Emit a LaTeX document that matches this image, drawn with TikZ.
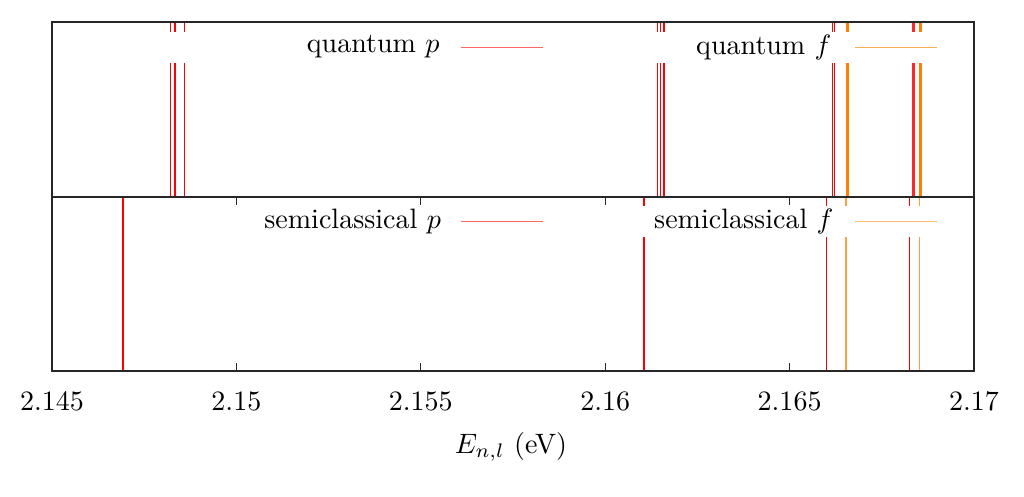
\documentclass[tikz,border=0pt]{standalone}
\begin{document}
\begin{tikzpicture}[x=0.3565pt,y=-0.3565pt,
  pline/.style={draw=red,line width=0.38pt},
  pthick/.style={draw=red!85,line width=0.95pt},
  fthick/.style={draw=orange,line width=0.95pt},
  fline/.style={draw=orange!75,line width=0.38pt},
  frame/.style={draw=black!85,line width=0.4pt},
  keybox/.style={fill=white,draw=none},
  keytxt/.style={anchor=east,inner sep=0pt},
  ticklab/.style={anchor=center,inner sep=0pt}]
\useasboundingbox[fill=white] (0,0) rectangle (1024,496);
% top panel lines
\foreach \x in {170.3,175,184.3,657.5,660.2,664,832.3,834.7}
  \draw[pline] (\x,22) -- (\x,197);
\draw[pthick] (913.3,22) -- (913.3,197);
\draw[fthick] (847.8,22) -- (847.8,197);
\draw[fthick] (920.5,22) -- (920.5,197);
% bottom panel lines
\foreach \x in {123,644,826.3,909.3}
  \draw[pline] (\x,197) -- (\x,371);
\foreach \x in {846,919.3}
  \draw[fline] (\x,197) -- (\x,371);
% key boxes
\path[keybox] (160,32) rectangle (946,63);
\path[keybox] (255,206) rectangle (946,237);
% key entries
\node[keytxt] (kqp) at (440,47) {quantum $p$};
\coordinate (kqpa) at (461,47.7); \coordinate (kqpb) at (543,47.7);
\draw[draw=red!60,line width=0.45pt] (kqpa) -- (kqpb);
\node[keytxt] (kqf) at (832,47) {quantum $f$};
\coordinate (kqfa) at (855,47.5); \coordinate (kqfb) at (937,47.5);
\draw[draw=orange!65,line width=0.6pt] (kqfa) -- (kqfb);
\node[keytxt] (ksp) at (441.5,221.5) {semiclassical $p$};
\coordinate (kspa) at (461,221.5); \coordinate (kspb) at (543,221.5);
\draw[draw=red!60,line width=0.45pt] (kspa) -- (kspb);
\node[keytxt] (ksf) at (834,221.5) {semiclassical $f$};
\coordinate (ksfa) at (855,221.5); \coordinate (ksfb) at (937,221.5);
\draw[draw=orange!55,line width=0.45pt] (ksfa) -- (ksfb);
% frames
\draw[frame] (52,22) rectangle (974,197);
\draw[frame] (52,197) rectangle (974,371);
% ticks
\foreach \x/\l in {52/2.145,236.4/2.15,420.8/2.155,605.2/2.16,789.6/2.165,974/2.17}{
  \draw[frame] (\x,371) -- (\x,363);
  \draw[frame] (\x,197) -- (\x,205);
  \node[ticklab] at (\x,401) {$\l$};
}
\node[ticklab] (xlab) at (511,447) {$E_{n,l}$ (eV)};
\end{tikzpicture}
\end{document}
